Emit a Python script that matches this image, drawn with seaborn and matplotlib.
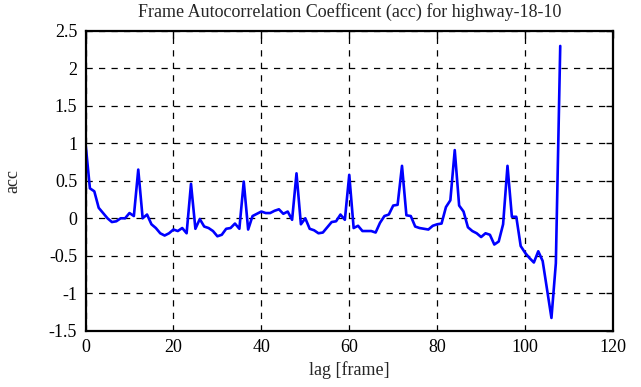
import numpy as np
import pandas as pd
import matplotlib
matplotlib.use("Agg")
import matplotlib.pyplot as plt
import seaborn as sns

# values, one per integer lag 0..108
lag = list(range(109))
acc = [1.00, 0.40, 0.36, 0.14, 0.07, 0.00, -0.05, -0.04, 0.00, 0.00,
       0.07, 0.03, 0.65, 0.00, 0.05, -0.08, -0.13, -0.20, -0.23, -0.20,
       -0.15, -0.17, -0.13, -0.20, 0.46, -0.14, -0.01, -0.11, -0.13, -0.17,
       -0.24, -0.22, -0.14, -0.13, -0.07, -0.14, 0.49, -0.15, 0.03, 0.06,
       0.09, 0.07, 0.07, 0.10, 0.12, 0.06, 0.09, -0.02, 0.60, -0.08,
       0.00, -0.14, -0.16, -0.20, -0.19, -0.12, -0.05, -0.04, 0.05, -0.02,
       0.58, -0.13, -0.10, -0.17, -0.17, -0.17, -0.19, -0.06, 0.03, 0.05,
       0.17, 0.18, 0.70, 0.04, 0.03, -0.11, -0.13, -0.14, -0.15, -0.10,
       -0.08, -0.07, 0.15, 0.24, 0.91, 0.17, 0.09, -0.12, -0.17, -0.20,
       -0.25, -0.20, -0.22, -0.35, -0.31, -0.08, 0.70, 0.02, 0.02, -0.37,
       -0.46, -0.53, -0.59, -0.44, -0.57, -0.95, -1.33, -0.60, 2.30]

xticks = [0, 20, 40, 60, 80, 100, 120]
yticks = [-1.5, -1, -0.5, 0, 0.5, 1, 1.5, 2, 2.5]
ytick_labels = ["-1.5", "-1", "-0.5", "0", "0.5", "1", "1.5", "2", "2.5"]

df = pd.DataFrame({"lag": lag, "acc": acc})

sns.set_style("white")
plt.rcParams["font.family"] = ["Liberation Serif", "DejaVu Serif"]

fig = plt.figure(figsize=(6.41, 3.87), dpi=100)
ax = fig.add_axes([0.1334, 0.1455, 0.8229, 0.7745])

sns.lineplot(data=df, x="lag", y="acc", ax=ax, color="#0000ff", linewidth=1.9)

ax.set_xlim(0, 120)
ax.set_ylim(-1.5, 2.5)
ax.set_xticks(xticks)
ax.set_xticklabels([str(t) for t in xticks])
ax.set_yticks(yticks)
ax.set_yticklabels(ytick_labels)
ax.grid(True, color="black", linestyle=(0, (5, 5)), linewidth=0.9)
ax.set_axisbelow(True)

for s in ax.spines.values():
    s.set_color("black")
    s.set_linewidth(1.6)

ax.tick_params(direction="in", length=5, width=1, top=True, right=True,
               labelsize=13, colors="black", pad=6)
ax.set_xlabel("lag [frame]", fontsize=13, labelpad=4)
ax.set_ylabel("acc", fontsize=13, labelpad=20)
ax.set_title("Frame Autocorrelation Coefficent (acc) for highway-18-10", fontsize=13, pad=10)

fig.savefig("out.png", dpi=100)
